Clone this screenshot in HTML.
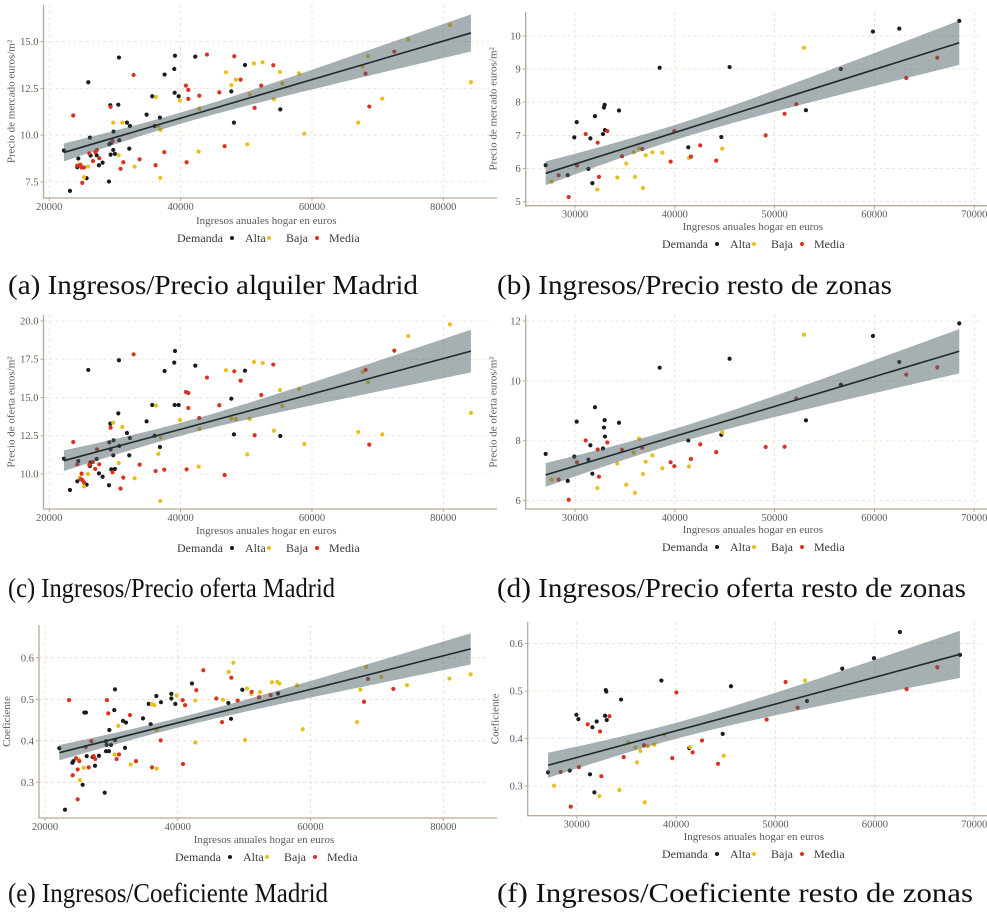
<!DOCTYPE html>
<html><head><meta charset="utf-8">
<style>
html,body{margin:0;padding:0;background:#fff;}
svg{display:block;font-family:"Liberation Serif",serif;}
.tick{fill:#5a5a5a;font-size:10.5px;}
.atitle{fill:#5a5a5a;font-size:11px;}
.leg{fill:#3a3a3a;font-size:12px;}
.cap{fill:#111;font-size:27px;}
</style></head>
<body>
<svg id="fig" width="987" height="918" viewBox="0 0 987 918"></svg>
<script>
// ===== Data =====
const groupNames = ["Alta","Baja","Media"];
// Panel a: Madrid precio mercado
const aX=[22230,23150,24260,24420,25690,25940,26190,26290,27210,27560,28120,29090,29290,29140,29340,29440,29740,29790,29990,30510,30610,30660,31830,32180,32280,34820,35680,36040,36850,37560,39030,39090,39140,39700,42230,47720,48120,49800,55180,
24670,25280,25890,29740,30560,31120,33000,36240,36600,36950,36900,39900,42740,42840,46900,47720,48430,50150,50510,51170,52490,54210,55130,55480,58020,58840,67050,67720,68530,70710,74670,81010,84210,
23650,24260,24770,25030,24920,25280,26090,26650,27000,27260,27610,29340,29640,30860,31270,32840,33760,36190,37510,40810,40910,41170,41170,42840,44010,45890,46700,48170,49140,51270,52280,54110,68170,68730,72540];
const aY=[9.18,7.02,8.29,8.75,7.70,12.83,9.87,8.91,8.93,8.39,8.53,7.52,11.60,9.51,8.96,9.60,9.21,10.19,9.00,11.63,14.15,9.73,10.67,9.28,10.49,11.10,12.08,10.49,10.94,13.24,13.54,12.27,14.25,12.08,14.20,12.34,10.67,13.75,11.38,
8.45,7.75,8.32,10.67,8.93,10.67,8.32,12.04,10.49,10.28,7.72,11.85,9.12,11.42,13.36,12.68,12.97,9.51,12.17,13.84,13.90,11.92,13.38,12.77,13.31,10.08,10.67,13.68,14.23,11.95,15.12,15.89,12.83,
11.05,8.37,8.39,7.45,8.27,8.27,9.03,8.62,9.10,9.21,8.77,11.51,9.69,8.20,8.55,13.22,8.71,8.39,9.09,12.65,8.55,12.42,11.94,12.11,14.31,12.29,9.41,14.22,12.97,11.46,12.65,13.74,13.29,11.53,14.47];
const aG="AAAAAAAAAAAAAAAAAAAAAAAAAAAAAAAAAAAAAAABBBBBBBBBBBBBBBBBBBBBBBBBBBBBBBBBMMMMMMMMMMMMMMMMMMMMMMMMMMMMMMMMMMM".split("");
// Panel b: resto precio mercado
const bX=[27060,29270,29930,30170,31340,31540,31740,32000,32800,32900,32970,33000,34410,38480,41350,44660,45490,53140,56640,59850,62490,68500,
27660,32240,34240,35140,35880,36010,36410,36810,37080,37750,38750,41420,44760,52940,
28360,29370,30200,31070,32270,32400,33240,34710,36740,39580,39950,41620,42550,44150,49100,51000,52170,63190,66300];
const bY=[6.10,5.80,6.94,7.40,5.99,6.91,5.56,7.58,7.04,7.84,7.92,7.16,7.75,9.04,6.64,6.95,9.06,7.76,9.00,10.13,10.22,10.45,
5.60,5.37,5.73,6.15,6.49,5.75,6.61,5.41,6.40,6.49,6.48,6.32,6.60,9.64,
5.80,5.14,6.09,7.04,6.78,5.75,7.13,6.37,6.59,6.21,7.13,6.36,6.70,6.24,7.00,7.65,7.94,8.73,9.34];
const bG="AAAAAAAAAAAAAAAAAAAAAABBBBBBBBBBBBBBMMMMMMMMMMMMMMMMMMM".split("");
// Panel c: Madrid precio oferta
const cX=aX.slice();
const cY=[11.00,8.95,9.52,10.85,9.30,16.80,10.52,10.76,10.98,10.04,9.82,9.26,13.29,12.07,11.61,10.30,11.22,12.20,10.33,13.96,17.43,11.83,12.68,11.22,12.35,13.44,14.51,12.50,11.76,16.73,17.28,14.51,18.04,14.51,17.08,14.92,12.59,16.75,12.48,
9.76,9.19,10.00,13.35,10.72,13.07,9.72,14.47,11.31,12.40,8.23,13.53,10.48,12.94,16.78,13.62,13.59,11.28,13.59,17.32,17.25,12.83,15.49,14.44,15.55,11.96,12.74,16.67,15.99,12.59,19.02,19.78,13.99,
12.09,10.63,9.65,9.61,10.02,9.45,10.59,10.78,10.33,11.61,10.63,13.03,10.11,9.04,9.76,17.82,10.61,10.19,10.28,15.36,10.30,15.29,14.31,13.66,16.30,14.49,9.93,16.71,16.10,12.53,15.16,17.15,16.80,11.92,18.06];
const cG=aG.slice();
// Panel d: resto precio oferta
const dX=bX.slice();
const dY=[7.56,6.66,7.47,8.64,7.37,7.85,6.90,9.12,7.74,8.44,8.69,8.14,8.60,10.44,8.01,8.20,10.74,8.68,9.87,11.50,10.63,11.92,
6.70,6.42,7.24,6.53,7.60,6.26,8.07,6.89,7.30,7.51,7.08,7.14,8.28,11.54,
6.70,6.03,7.28,8.01,7.71,6.80,7.94,7.70,7.77,7.28,7.15,7.39,7.88,7.62,7.79,7.80,9.41,10.21,10.45];
const dG=bG.slice();
// Panel e: Madrid coeficiente
const eX=[22160,23010,24120,24270,25670,25920,26170,26280,27180,27530,28130,28990,29190,29190,29290,29640,29690,29940,30440,30540,30540,31750,32200,32050,34760,35620,35920,36770,37470,39030,39030,39630,42140,47620,48020,49720,55100,
25070,25270,25820,30490,31040,32900,36120,36470,36820,36820,39830,42640,42640,47670,46810,48370,50130,50430,51080,52390,54190,54990,55300,57960,58810,67000,67500,68400,70660,74530,80910,84120,
23620,24170,24670,24920,24920,25170,26130,26580,26980,27330,27580,29340,29540,30790,31150,32800,33710,36120,37420,40740,40790,41090,42790,43850,45810,46660,48070,49020,51130,52240,53990,68050,68650,72470];
const eY=[0.382,0.234,0.347,0.351,0.294,0.468,0.468,0.363,0.361,0.340,0.364,0.275,0.375,0.399,0.390,0.375,0.426,0.390,0.474,0.524,0.402,0.448,0.444,0.383,0.454,0.489,0.440,0.508,0.493,0.513,0.502,0.489,0.538,0.491,0.453,0.523,0.514,
0.355,0.305,0.335,0.367,0.436,0.343,0.488,0.486,0.427,0.333,0.509,0.497,0.396,0.566,0.499,0.588,0.402,0.526,0.513,0.517,0.541,0.542,0.538,0.534,0.428,0.445,0.523,0.578,0.554,0.534,0.550,0.560,
0.498,0.317,0.358,0.331,0.259,0.351,0.385,0.336,0.399,0.363,0.356,0.498,0.466,0.356,0.367,0.462,0.351,0.336,0.401,0.498,0.344,0.486,0.522,0.570,0.502,0.445,0.552,0.497,0.518,0.505,0.510,0.494,0.549,0.525];
const eG="AAAAAAAAAAAAAAAAAAAAAAAAAAAAAAAAAAAAABBBBBBBBBBBBBBBBBBBBBBBBBBBBBBBBMMMMMMMMMMMMMMMMMMMMMMMMMMMMMMMMMM".split("");
// Panel f: resto coeficiente
const fX=[27120,29300,29970,30170,31340,31580,31780,32010,32850,32920,32980,33020,34460,38520,41330,44690,45520,53170,56720,59910,62520,68560,
27720,32280,34290,35200,35900,36070,36410,36840,37140,37810,38820,41430,44790,52970,
28390,29400,30230,31110,32350,32480,33290,34730,36770,39620,40030,41670,42610,44220,49110,51020,52230,63190,66280];
const fY=[0.329,0.333,0.450,0.441,0.325,0.424,0.287,0.436,0.448,0.502,0.499,0.439,0.482,0.522,0.380,0.410,0.510,0.479,0.547,0.569,0.624,0.576,
0.301,0.279,0.292,0.392,0.381,0.350,0.374,0.266,0.384,0.387,0.408,0.382,0.364,0.522,
0.330,0.257,0.340,0.430,0.415,0.321,0.447,0.361,0.386,0.359,0.497,0.371,0.396,0.347,0.440,0.519,0.465,0.504,0.550];
const fG=bG.slice();
// Tick labels
const xTicksMadrid=[20000,40000,60000,80000];
const xTicksResto=[30000,40000,50000,60000,70000];
const yTicksA=[7.5,10.0,12.5,15.0];
const yTicksB=[5,6,7,8,9,10];
const yTicksC=[10.0,12.5,15.0,17.5,20.0];
const yTicksD=[6,8,10,12];
const yTicksE=[0.3,0.4,0.5,0.6];
const yTicksF=[0.3,0.4,0.5,0.6];
const captions=["(a) Ingresos/Precio alquiler Madrid","(b) Ingresos/Precio resto de zonas","(c) Ingresos/Precio oferta Madrid","(d) Ingresos/Precio oferta resto de zonas","(e) Ingresos/Coeficiente Madrid","(f) Ingresos/Coeficiente resto de zonas"];

// ===== Drawing =====
const NS="http://www.w3.org/2000/svg";
const svg=document.getElementById('fig');
function mk(tag,attrs,parent){const e=document.createElementNS(NS,tag);for(const k in attrs)e.setAttribute(k,attrs[k]);(parent||svg).appendChild(e);return e;}
const colors={A:"#1b1b1b",B:"#e8bf1c",M:"#d9321f"};

const panels=[
 {id:"a",X:aX,Y:aY,G:aG,xt:xTicksMadrid,yt:yTicksA,yd:1,l:43.5,r:489,t:5,b:198,x0:19120,x1:86960,y0:6.64,y1:16.96,ytitle:"Precio de mercado euros/m²",ty:224,leg:177,legy:238,cap:0,capy:294,capx:8,capw:410},
 {id:"b",X:bX,Y:bY,G:bG,xt:xTicksResto,yt:yTicksB,yd:0,l:525.7,r:980,t:12,b:205.7,x0:25060,x1:70580,y0:4.88,y1:10.72,ytitle:"Precio de mercado euros/m²",ty:230,leg:662,legy:244,cap:1,capy:294,capx:497,capw:395},
 {id:"c",X:cX,Y:cY,G:cG,xt:xTicksMadrid,yt:yTicksC,yd:1,l:43.5,r:489,t:315,b:509,x0:19120,x1:86960,y0:7.71,y1:20.39,ytitle:"Precio de oferta euros/m²",ty:534,leg:177,legy:548,cap:2,capy:597,capx:8,capw:327},
 {id:"d",X:dX,Y:dY,G:dG,xt:xTicksResto,yt:yTicksD,yd:0,l:525.7,r:980,t:315,b:509,x0:25060,x1:70580,y0:5.72,y1:12.2,ytitle:"Precio de oferta euros/m²",ty:533,leg:662,legy:547,cap:3,capy:597,capx:497,capw:469},
 {id:"e",X:eX,Y:eY,G:eG,xt:xTicksMadrid,yt:yTicksE,yd:1,l:39,r:489,t:625,b:818,x0:19096,x1:86880,y0:0.214,y1:0.679,ytitle:"Coeficiente",ty:843,leg:175,legy:857,cap:4,capy:902,capx:8,capw:320},
 {id:"f",X:fX,Y:fY,G:fG,xt:xTicksResto,yt:yTicksF,yd:1,l:527.7,r:980,t:622,b:815.7,x0:25070,x1:70580,y0:0.238,y1:0.645,ytitle:"Coeficiente",ty:840,leg:662,legy:854,cap:5,capy:902,capx:497,capw:476}
];

panels.forEach(p=>{
  const g=mk('g',{});
  
  
  const sx=v=>p.l+(v-p.x0)/(p.x1-p.x0)*(p.r-p.l);
  const sy=v=>p.b-(v-p.y0)/(p.y1-p.y0)*(p.b-p.t);
  p.xt.forEach(v=>{const ln=mk('line',{x1:sx(v),x2:sx(v),y1:p.t,y2:p.b,stroke:"#eadccb","stroke-width":0.8,"stroke-dasharray":"3,3"},g);
    });
  p.yt.forEach(v=>{const ln=mk('line',{x1:p.l,x2:p.r,y1:sy(v),y2:sy(v),stroke:"#eadccb","stroke-width":0.8,"stroke-dasharray":"3,3"},g);
    });
  p.X.forEach((x,i)=>{const c=mk('circle',{cx:sx(x),cy:sy(p.Y[i]),r:2.1,fill:colors[p.G[i]]},g);
    
    });
  const n=p.X.length;let mx=0,my=0;p.X.forEach((x,i)=>{mx+=x;my+=p.Y[i];});mx/=n;my/=n;
  let sxx=0,sxy=0;p.X.forEach((x,i)=>{sxx+=(x-mx)*(x-mx);sxy+=(x-mx)*(p.Y[i]-my);});
  const b1=sxy/sxx,b0=my-b1*mx;let sse=0;p.X.forEach((x,i)=>{const r=p.Y[i]-(b0+b1*x);sse+=r*r;});
  const s=Math.sqrt(sse/(n-2)),tq=1.98;
  const xmin=Math.min(...p.X),xmax=Math.max(...p.X);
  const up=[],lo=[];
  for(let k=0;k<=60;k++){const x=xmin+(xmax-xmin)*k/60;const f=b0+b1*x;const se=s*Math.sqrt(1/n+(x-mx)*(x-mx)/sxx);
    up.push(sx(x).toFixed(2)+','+sy(f+tq*se).toFixed(2));lo.unshift(sx(x).toFixed(2)+','+sy(f-tq*se).toFixed(2));}
  const rib=mk('polygon',{points:up.concat(lo).join(' '),fill:"#4d5f66","fill-opacity":0.5},g);
  
  const fl=mk('line',{x1:sx(xmin),y1:sy(b0+b1*xmin),x2:sx(xmax),y2:sy(b0+b1*xmax),stroke:"#1e2a2e","stroke-width":1.6},g);
  
  const ax=mk('path',{d:`M${p.l},${p.t} L${p.l},${p.b} L${p.r+8},${p.b}`,fill:"none",stroke:"#b9a999","stroke-width":1.3},g);
  
  p.xt.forEach(v=>{mk('line',{x1:sx(v),x2:sx(v),y1:p.b,y2:p.b+3,stroke:"#b9a999"},g);
    const t=mk('text',{x:sx(v),y:p.b+12,"text-anchor":"middle",class:"tick"},g);t.textContent=v;
    });
  p.yt.forEach(v=>{mk('line',{x1:p.l-3,x2:p.l,y1:sy(v),y2:sy(v),stroke:"#b9a999"},g);
    const t=mk('text',{x:p.l-5,y:sy(v)+3.5,"text-anchor":"end",class:"tick"},g);t.textContent=v.toFixed(p.yd);
    });
  const xt=mk('text',{x:(p.l+p.r)/2,y:p.ty,"text-anchor":"middle",class:"atitle"},g);xt.textContent="Ingresos anuales hogar en euros";
  
  const cy=(p.t+p.b)/2,cx=p.l-29;
  const yt=mk('text',{x:cx,y:cy,"text-anchor":"middle",class:"atitle",transform:`rotate(-90 ${cx} ${cy})`},g);yt.textContent=p.ytitle;
  
  const lg=mk('g',{},g);
  const lt=mk('text',{x:p.leg,y:p.legy+4,class:"leg"},lg);lt.textContent="Demanda";
  const offs=[[55,68],[92,109],[140,152]];
  ["A","B","M"].forEach((k,i)=>{
    const d=mk('circle',{cx:p.leg+offs[i][0],cy:p.legy,r:2,fill:colors[k]},lg);
    
    const tt=mk('text',{x:p.leg+offs[i][1],y:p.legy+4,class:"leg"},lg);tt.textContent=groupNames[i];
    
  });
  const cap=mk('text',{x:p.capx,y:p.capy,class:"cap",textLength:p.capw,lengthAdjust:"spacingAndGlyphs"},g);cap.textContent=captions[p.cap];
  
});
</script>
</body></html>
